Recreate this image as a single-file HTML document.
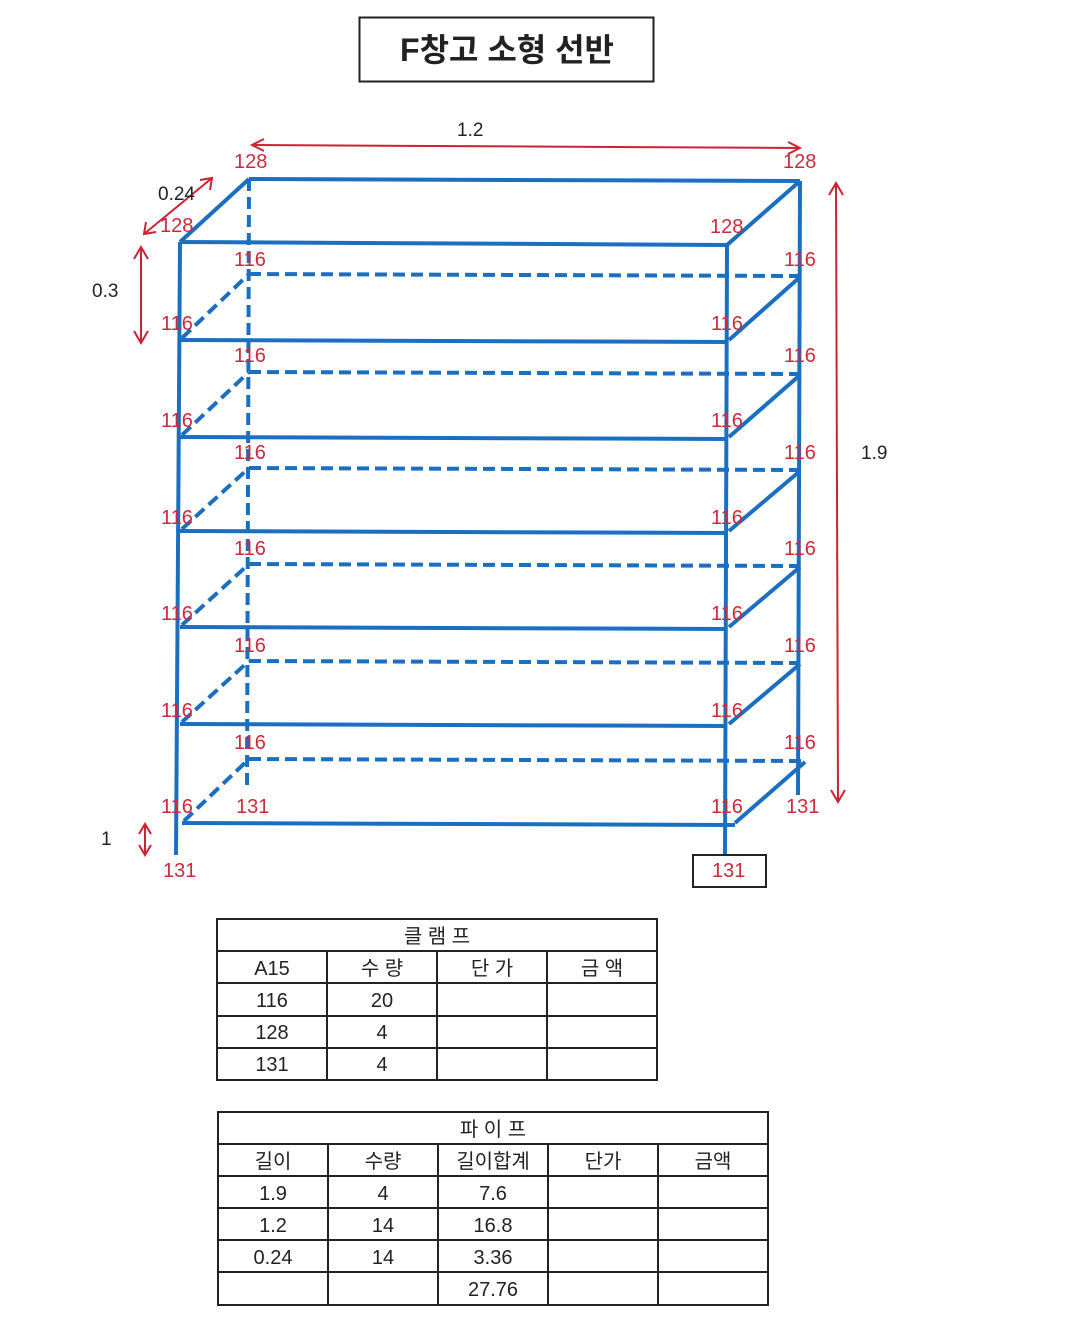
<!DOCTYPE html>
<html><head><meta charset="utf-8"><style>
body{margin:0;background:#fff;width:1070px;height:1325px;overflow:hidden}
svg text{font-family:"Liberation Sans","Noto Sans CJK KR",sans-serif}
</style></head><body>
<svg width="1070" height="1325" viewBox="0 0 1070 1325">
<rect x="359.5" y="17.5" width="294" height="64" fill="none" stroke="#222" stroke-width="2"/>
<text x="507" y="61" font-size="32" font-weight="bold" text-anchor="middle" fill="#222">F창고 소형 선반</text>
<g stroke="#1b6fc0" stroke-width="4" fill="none">
<line x1="180" y1="242" x2="727" y2="245"/>
<line x1="249" y1="179" x2="800" y2="181"/>
<line x1="180" y1="242" x2="249" y2="179"/>
<line x1="727" y1="245" x2="800" y2="181"/>
<line x1="180" y1="242" x2="176" y2="855"/>
<line x1="727" y1="245" x2="725" y2="855"/>
<line x1="800" y1="181" x2="798" y2="795"/>
<line x1="249" y1="179" x2="247" y2="790" stroke-dasharray="12,6"/>
<line x1="180" y1="340" x2="727" y2="342"/>
<line x1="180" y1="437" x2="727" y2="439"/>
<line x1="180" y1="531" x2="727" y2="533"/>
<line x1="180" y1="627" x2="727" y2="629"/>
<line x1="180" y1="724" x2="727" y2="726"/>
<line x1="182" y1="823" x2="735" y2="825"/>
<g stroke-dasharray="12,6">
<line x1="249" y1="274" x2="800" y2="276"/>
<line x1="249" y1="372" x2="800" y2="374"/>
<line x1="249" y1="468" x2="800" y2="470"/>
<line x1="249" y1="564" x2="800" y2="566"/>
<line x1="249" y1="661" x2="800" y2="663"/>
<line x1="249" y1="759" x2="805" y2="761"/>
<line x1="182" y1="338" x2="249" y2="274"/>
<line x1="182" y1="435" x2="249" y2="372"/>
<line x1="182" y1="529" x2="249" y2="468"/>
<line x1="182" y1="625" x2="249" y2="564"/>
<line x1="182" y1="722" x2="249" y2="661"/>
<line x1="184" y1="821" x2="249" y2="759"/>
</g>
<line x1="729" y1="340" x2="800" y2="277"/>
<line x1="729" y1="437" x2="800" y2="375"/>
<line x1="729" y1="531" x2="800" y2="471"/>
<line x1="729" y1="627" x2="800" y2="567"/>
<line x1="729" y1="724" x2="800" y2="664"/>
<line x1="735" y1="823" x2="805" y2="762"/>
</g>
<g stroke="#cc2233" stroke-width="2" fill="none">
<line x1="252" y1="145" x2="800" y2="148"/>
<polyline points="264,139 252,145 264,151"/><polyline points="788,142 800,148 788,154"/>
<line x1="144" y1="234" x2="212" y2="178"/>
<polyline points="146,222 144,234 156,232"/><polyline points="200,180 212,178 210,190"/>
<line x1="141" y1="247" x2="141" y2="343"/>
<polyline points="134,259 141,247 148,259"/><polyline points="134,331 141,343 148,331"/>
<line x1="836" y1="183" x2="838" y2="802"/>
<polyline points="829,195 836,183 843,195"/><polyline points="831,790 838,802 845,790"/>
<line x1="145" y1="824" x2="145" y2="855"/>
<polyline points="139,834 145,824 151,834"/><polyline points="139,845 145,855 151,845"/>
</g>
<g font-size="19" fill="#222">
<text x="457" y="136">1.2</text>
<text x="158" y="200">0.24</text>
<text x="92" y="297">0.3</text>
<text x="861" y="459">1.9</text>
<text x="101" y="845">1</text>
</g>
<g font-size="20" fill="#cc2a3a">
<text x="234" y="168">128</text><text x="783" y="168">128</text>
<text x="160" y="232">128</text><text x="710" y="233">128</text>
<text x="234" y="266">116</text><text x="784" y="266">116</text>
<text x="161" y="330">116</text><text x="711" y="330">116</text>
<text x="234" y="362">116</text><text x="784" y="362">116</text>
<text x="161" y="427">116</text><text x="711" y="427">116</text>
<text x="234" y="459">116</text><text x="784" y="459">116</text>
<text x="161" y="524">116</text><text x="711" y="524">116</text>
<text x="234" y="555">116</text><text x="784" y="555">116</text>
<text x="161" y="620">116</text><text x="711" y="620">116</text>
<text x="234" y="652">116</text><text x="784" y="652">116</text>
<text x="161" y="717">116</text><text x="711" y="717">116</text>
<text x="234" y="749">116</text><text x="784" y="749">116</text>
<text x="161" y="813">116</text><text x="711" y="813">116</text>
<text x="236" y="813">131</text><text x="786" y="813">131</text>
<text x="163" y="877">131</text><text x="712" y="877">131</text>
</g>
<rect x="693" y="855" width="73" height="32" fill="none" stroke="#222" stroke-width="2"/>
<g stroke="#222" stroke-width="2" fill="none">
<rect x="217" y="919" width="440" height="161"/>
<line x1="217" y1="951" x2="657" y2="951"/>
<line x1="217" y1="983" x2="657" y2="983"/>
<line x1="217" y1="1016" x2="657" y2="1016"/>
<line x1="217" y1="1048" x2="657" y2="1048"/>
<line x1="327" y1="951" x2="327" y2="1080"/>
<line x1="437" y1="951" x2="437" y2="1080"/>
<line x1="547" y1="951" x2="547" y2="1080"/>
</g>
<g font-size="20" fill="#222" text-anchor="middle">
<text x="437" y="943">클 램 프</text>
<text x="272" y="975">A15</text><text x="382" y="975">수 량</text><text x="492" y="975">단 가</text><text x="602" y="975">금 액</text>
<text x="272" y="1007">116</text><text x="382" y="1007">20</text>
<text x="272" y="1039">128</text><text x="382" y="1039">4</text>
<text x="272" y="1071">131</text><text x="382" y="1071">4</text>
</g>
<g stroke="#222" stroke-width="2" fill="none">
<rect x="218" y="1112" width="550" height="193"/>
<line x1="218" y1="1144" x2="768" y2="1144"/>
<line x1="218" y1="1176" x2="768" y2="1176"/>
<line x1="218" y1="1208" x2="768" y2="1208"/>
<line x1="218" y1="1240" x2="768" y2="1240"/>
<line x1="218" y1="1272" x2="768" y2="1272"/>
<line x1="328" y1="1144" x2="328" y2="1305"/>
<line x1="438" y1="1144" x2="438" y2="1305"/>
<line x1="548" y1="1144" x2="548" y2="1305"/>
<line x1="658" y1="1144" x2="658" y2="1305"/>
</g>
<g font-size="20" fill="#222" text-anchor="middle">
<text x="493" y="1136">파 이 프</text>
<text x="273" y="1168">길이</text><text x="383" y="1168">수량</text><text x="493" y="1168">길이합계</text><text x="603" y="1168">단가</text><text x="713" y="1168">금액</text>
<text x="273" y="1200">1.9</text><text x="383" y="1200">4</text><text x="493" y="1200">7.6</text>
<text x="273" y="1232">1.2</text><text x="383" y="1232">14</text><text x="493" y="1232">16.8</text>
<text x="273" y="1264">0.24</text><text x="383" y="1264">14</text><text x="493" y="1264">3.36</text>
<text x="493" y="1296">27.76</text>
</g>
</svg>
</body></html>
